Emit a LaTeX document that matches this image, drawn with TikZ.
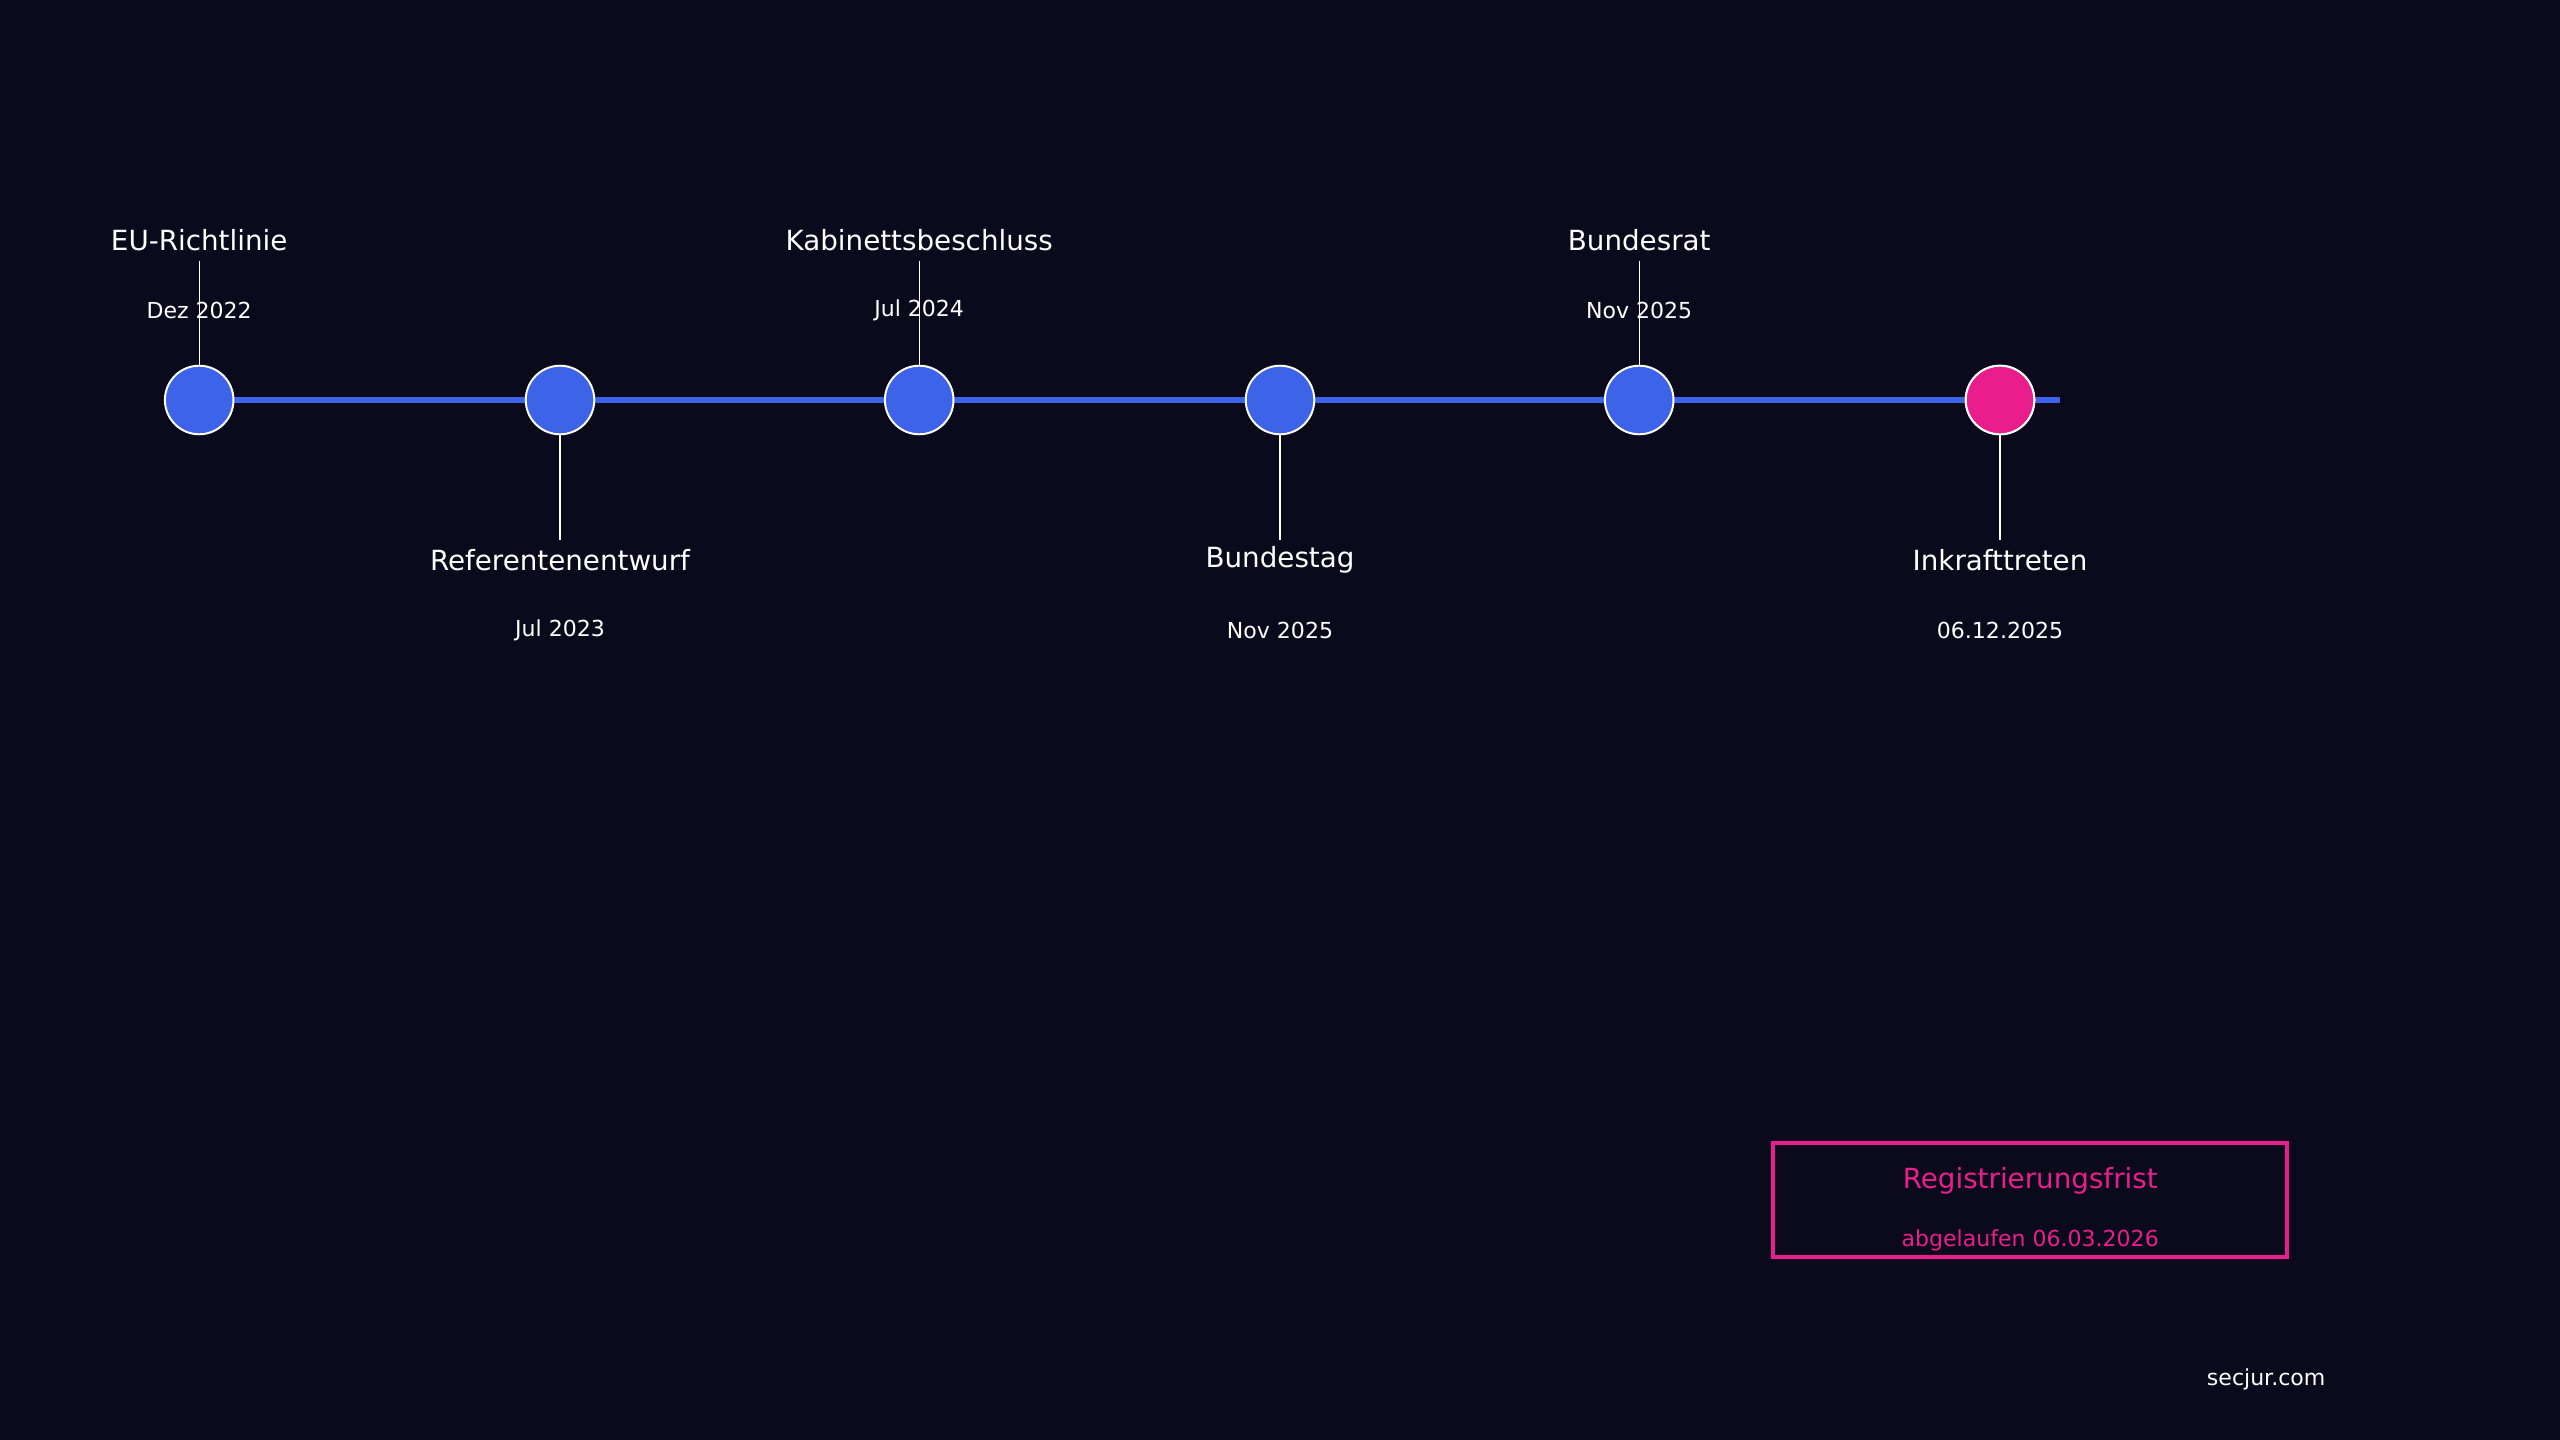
\documentclass[tikz,border=0pt]{standalone}
\usepackage{fontspec}
\setmainfont{DejaVu Sans}
\definecolor{bg}{HTML}{0B0A1C}
\definecolor{blu}{HTML}{3D63E8}
\definecolor{pnk}{HTML}{E91E8C}
\begin{document}
\begin{tikzpicture}[x=1pt,y=-1pt,
  ms/.style={circle,fill=blu,draw=white,line width=1.2pt,minimum size=42pt,inner sep=0pt},
  ttl/.style={text=white,font=\fontsize{17}{20}\selectfont,inner sep=0pt},
  dat/.style={text=white,font=\fontsize{13.5}{16}\selectfont,inner sep=0pt},
  lead/.style={draw=white,line width=0.8pt}]
\fill[bg] (0,0) rectangle (1568,882);
\useasboundingbox (0,0) rectangle (1568,882);
\coordinate (e) at (1262,245);
\coordinate (s) at (122,245);
\draw[blu,line width=4pt] (s) -- (e);
\foreach \i/\x/\t/\d/\up in {1/122/EU-Richtlinie/Dez 2022/1,2/343/Referentenentwurf/Jul 2023/0,3/563/Kabinettsbeschluss/Jul 2024/1,4/784/Bundestag/Nov 2025/0,5/1004/Bundesrat/Nov 2025/1,6/1225/Inkrafttreten/06.12.2025/0}{
  \ifnum\up=1
    \coordinate (c\i) at (\x,160);
    \node[ttl] (t\i) at (\x,147) {\t};
    \node[dat] (d\i) at (\x,190) {\d};
  \else
    \coordinate (c\i) at (\x,331);
    \node[ttl] (t\i) at (\x,343) {\t};
    \node[dat] (d\i) at (\x,386) {\d};
  \fi
  \node[ms] (m\i) at (\x,245) {};
  \draw[lead] (m\i) -- (c\i);
}
\node[ms,fill=pnk] at (1225,245) {};
\node[draw=pnk,line width=2.5pt,minimum width=315pt,minimum height=70pt,inner sep=0pt] (box) at (1243.5,735) {};
\node[text=pnk,font=\fontsize{17}{20}\selectfont,inner sep=0pt] (r1) at (1243.5,723) {Registrierungsfrist};
\node[text=pnk,font=\fontsize{13.5}{16}\selectfont,inner sep=0pt] (r2) at (1243.5,760) {abgelaufen 06.03.2026};
\node[dat] (web) at (1388,845) {secjur.com};
\end{tikzpicture}
\end{document}
